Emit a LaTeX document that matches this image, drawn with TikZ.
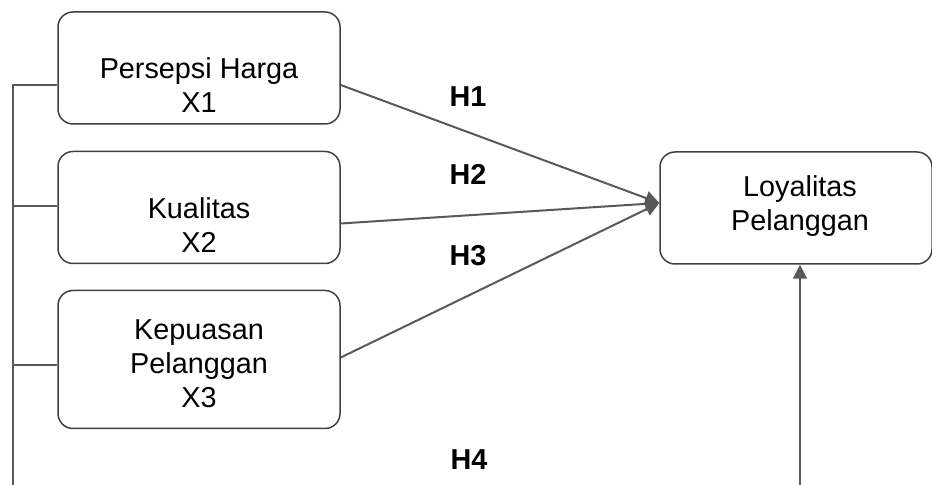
\documentclass[tikz,border=0pt]{standalone}
\usepackage{fontspec}
\setmainfont{Liberation Sans}
\usetikzlibrary{arrows.meta}
\tikzset{
  box/.style={draw=black!75,line width=0.75pt,rounded corners=7.5pt,minimum width=141pt,minimum height=56pt,inner sep=0pt},
  txt/.style={align=center,font=\fontsize{14.4}{17}\selectfont,inner sep=0pt},
  hyp/.style={font=\fontsize{14.4}{17}\selectfont\bfseries,inner sep=0pt},
  line/.style={draw=black!65,line width=1pt},
  arr/.style={line,-{Triangle[length=7pt,width=7pt]}}
}
\begin{document}
\begin{tikzpicture}[x=0.5pt,y=-0.5pt]
\useasboundingbox (0,0) rectangle (932,485);
%boxes
\node[box] (x1) at (199,68) {};
\node[box] (x2) at (199,207.5) {};
\node[box,minimum height=69pt] (x3) at (199,359.5) {};
\node[box,minimum width=136pt] (y) at (796,208) {};
%texts
\node[txt] (t1) at (199,85) {Persepsi Harga\\X1};
\node[txt] (t2) at (199,225) {Kualitas\\X2};
\node[txt] (t3) at (199,364) {Kepuasan\\Pelanggan\\X3};
\node[txt] (ty) at (800,206.5) {Loyalitas\\Pelanggan};
%left line
\coordinate (s1) at (13,85);
\coordinate (s2) at (13,206);
\coordinate (s3) at (13,365);
\coordinate (s4) at (13,485);
\draw[line] (s4)--(s1)--(s1-|x1.west);
\foreach \s/\b in {s2/x2,s3/x3}{\draw[line] (\s)--(\s-|\b.west);}
%arrows
\coordinate (yin) at ([yshift=2.5pt]y.west);
\draw[arr] (x1.east|-s1)--(yin);
\draw[arr] ([yshift=-8pt]x2.east)--(yin);
\draw[arr] ([yshift=1pt]x3.east)--(yin);
\coordinate (b4) at (800,485);
\draw[arr] (b4)--(b4|-y.south);
%labels
\node[hyp] (h1) at (468,97) {H1};
\node[hyp] (h2) at (468,174) {H2};
\node[hyp] (h3) at (468,256) {H3};
\node[hyp] (h4) at (469,460) {H4};
\end{tikzpicture}
\end{document}
